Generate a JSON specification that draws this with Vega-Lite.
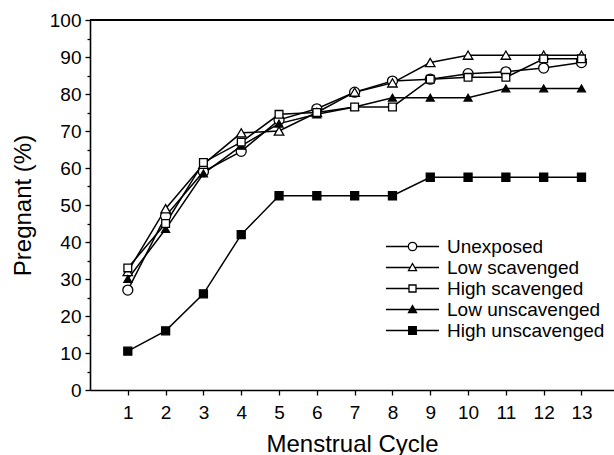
{
  "$schema": "https://vega.github.io/schema/vega-lite/v6.json",
  "autosize": "none",
  "padding": {"left": 90, "top": 20, "right": 0, "bottom": 65},
  "width": 524,
  "height": 370,
  "config": {
    "font": "Liberation Sans",
    "view": {"stroke": null},
    "axis": {
      "domainColor": "black", "domainWidth": 1.6, "tickColor": "black", "tickWidth": 1.3,
      "labelColor": "black", "labelFontSize": 19, "titleFontSize": 24, "titleFontWeight": "normal",
      "titleColor": "black", "grid": false
    }
  },
  "data": {"values": [
    {"cycle": 1, "series": "Unexposed", "pct": 27},
    {"cycle": 2, "series": "Unexposed", "pct": 47},
    {"cycle": 3, "series": "Unexposed", "pct": 59},
    {"cycle": 4, "series": "Unexposed", "pct": 64.5},
    {"cycle": 5, "series": "Unexposed", "pct": 73},
    {"cycle": 6, "series": "Unexposed", "pct": 76},
    {"cycle": 7, "series": "Unexposed", "pct": 80.5},
    {"cycle": 8, "series": "Unexposed", "pct": 83.5},
    {"cycle": 9, "series": "Unexposed", "pct": 84},
    {"cycle": 10, "series": "Unexposed", "pct": 85.5},
    {"cycle": 11, "series": "Unexposed", "pct": 86},
    {"cycle": 12, "series": "Unexposed", "pct": 87},
    {"cycle": 13, "series": "Unexposed", "pct": 88.5},
    {"cycle": 1, "series": "Low scavenged", "pct": 32},
    {"cycle": 2, "series": "Low scavenged", "pct": 49},
    {"cycle": 3, "series": "Low scavenged", "pct": 61},
    {"cycle": 4, "series": "Low scavenged", "pct": 69.5},
    {"cycle": 5, "series": "Low scavenged", "pct": 70},
    {"cycle": 6, "series": "Low scavenged", "pct": 75},
    {"cycle": 7, "series": "Low scavenged", "pct": 80.5},
    {"cycle": 8, "series": "Low scavenged", "pct": 83},
    {"cycle": 9, "series": "Low scavenged", "pct": 88.5},
    {"cycle": 10, "series": "Low scavenged", "pct": 90.5},
    {"cycle": 11, "series": "Low scavenged", "pct": 90.5},
    {"cycle": 12, "series": "Low scavenged", "pct": 90.5},
    {"cycle": 13, "series": "Low scavenged", "pct": 90.5},
    {"cycle": 1, "series": "High scavenged", "pct": 33},
    {"cycle": 2, "series": "High scavenged", "pct": 45},
    {"cycle": 3, "series": "High scavenged", "pct": 61.5},
    {"cycle": 4, "series": "High scavenged", "pct": 67},
    {"cycle": 5, "series": "High scavenged", "pct": 74.5},
    {"cycle": 6, "series": "High scavenged", "pct": 75},
    {"cycle": 7, "series": "High scavenged", "pct": 76.5},
    {"cycle": 8, "series": "High scavenged", "pct": 76.5},
    {"cycle": 9, "series": "High scavenged", "pct": 84},
    {"cycle": 10, "series": "High scavenged", "pct": 84.5},
    {"cycle": 11, "series": "High scavenged", "pct": 84.5},
    {"cycle": 12, "series": "High scavenged", "pct": 89.5},
    {"cycle": 13, "series": "High scavenged", "pct": 89.5},
    {"cycle": 1, "series": "Low unscavenged", "pct": 30},
    {"cycle": 2, "series": "Low unscavenged", "pct": 43.5},
    {"cycle": 3, "series": "Low unscavenged", "pct": 58.5},
    {"cycle": 4, "series": "Low unscavenged", "pct": 66},
    {"cycle": 5, "series": "Low unscavenged", "pct": 72},
    {"cycle": 6, "series": "Low unscavenged", "pct": 74.5},
    {"cycle": 7, "series": "Low unscavenged", "pct": 76.5},
    {"cycle": 8, "series": "Low unscavenged", "pct": 79},
    {"cycle": 9, "series": "Low unscavenged", "pct": 79},
    {"cycle": 10, "series": "Low unscavenged", "pct": 79},
    {"cycle": 11, "series": "Low unscavenged", "pct": 81.5},
    {"cycle": 12, "series": "Low unscavenged", "pct": 81.5},
    {"cycle": 13, "series": "Low unscavenged", "pct": 81.5},
    {"cycle": 1, "series": "High unscavenged", "pct": 10.5},
    {"cycle": 2, "series": "High unscavenged", "pct": 16},
    {"cycle": 3, "series": "High unscavenged", "pct": 26},
    {"cycle": 4, "series": "High unscavenged", "pct": 42},
    {"cycle": 5, "series": "High unscavenged", "pct": 52.5},
    {"cycle": 6, "series": "High unscavenged", "pct": 52.5},
    {"cycle": 7, "series": "High unscavenged", "pct": 52.5},
    {"cycle": 8, "series": "High unscavenged", "pct": 52.5},
    {"cycle": 9, "series": "High unscavenged", "pct": 57.5},
    {"cycle": 10, "series": "High unscavenged", "pct": 57.5},
    {"cycle": 11, "series": "High unscavenged", "pct": 57.5},
    {"cycle": 12, "series": "High unscavenged", "pct": 57.5},
    {"cycle": 13, "series": "High unscavenged", "pct": 57.5}
  ]},
  "layer": [
    {
      "mark": {"type": "rule", "color": "black", "strokeWidth": 2},
      "encoding": {
        "y": {"datum": 100, "type": "quantitative",
          "axis": {"orient": "left", "values": [5, 15, 25, 35, 45, 55, 65, 75, 85, 95], "labels": false, "domain": false, "tickSize": 3, "title": null}}
      }
    },
    {
      "mark": {"type": "line", "color": "black", "strokeWidth": 1.5},
      "encoding": {
        "x": {"field": "cycle", "type": "quantitative",
          "scale": {"domain": [0, 13.86], "nice": false, "zero": false},
          "axis": {"values": [1,2,3,4,5,6,7,8,9,10,11,12,13], "tickSize": 5, "labelPadding": 8,
            "title": "Menstrual Cycle", "titleY": 61, "titleBaseline": "alphabetic"}},
        "y": {"field": "pct", "type": "quantitative",
          "scale": {"domain": [0, 100], "nice": false},
          "axis": {"orient": "left", "values": [0,10,20,30,40,50,60,70,80,90,100], "tickSize": 5, "labelPadding": 4,
            "title": "Pregnant (%)", "titleX": -60, "titleY": 185, "titleBaseline": "alphabetic", "titleAngle": -90, "titleAlign": "center"}},
        "detail": {"field": "series"}
      }
    },
    {
      "transform": [{"filter": {"field": "series", "equal": "Unexposed"}}],
      "mark": {"type": "point", "shape": "circle", "size": 100, "stroke": "black", "strokeWidth": 1.3, "fill": "white", "opacity": 1, "fillOpacity": 1},
      "encoding": {
        "x": {"field": "cycle", "type": "quantitative"},
        "y": {"field": "pct", "type": "quantitative", "axis": null}
      }
    },
    {
      "transform": [{"filter": {"field": "series", "oneOf": ["Low scavenged", "Low unscavenged"]}}],
      "mark": {"type": "point", "shape": "triangle-up", "stroke": "black", "strokeWidth": 1.3, "opacity": 1, "fillOpacity": 1},
      "encoding": {
        "x": {"field": "cycle", "type": "quantitative"},
        "y": {"field": "pct", "type": "quantitative", "axis": null},
        "fill": {"condition": {"test": "datum.series === 'Low scavenged'", "value": "white"}, "value": "black"},
        "size": {"condition": {"test": "datum.series === 'Low scavenged'", "value": 90}, "value": 62}
      }
    },
    {
      "transform": [{"filter": {"field": "series", "oneOf": ["High scavenged", "High unscavenged"]}}],
      "mark": {"type": "point", "shape": "square", "stroke": "black", "strokeWidth": 1.3, "opacity": 1, "fillOpacity": 1},
      "encoding": {
        "x": {"field": "cycle", "type": "quantitative"},
        "y": {"field": "pct", "type": "quantitative", "axis": null},
        "fill": {"condition": {"test": "datum.series === 'High scavenged'", "value": "white"}, "value": "black"},
        "size": {"condition": {"test": "datum.series === 'High scavenged'", "value": 60}, "value": 64}
      }
    },
    {
      "mark": {"type": "point", "strokeWidth": 1.3, "opacity": 0, "size": 361},
      "encoding": {
        "x": {"field": "cycle", "type": "quantitative"},
        "y": {"field": "pct", "type": "quantitative", "axis": null},
        "shape": {"field": "series", "type": "nominal",
          "scale": {"domain": ["Unexposed", "Low scavenged", "High scavenged", "Low unscavenged", "High unscavenged"],
                    "range": [
                      "M-2.79,0H-0.44M0.44,0H2.79M-0.44,0A0.44,0.44 0 1,0 0.44,0A0.44,0.44 0 1,0 -0.44,0Z",
                      "M-2.79,0H-0.24M0.24,0H2.79M0,-0.42L0.42,0.32L-0.42,0.32Z",
                      "M-2.79,0H-0.37M0.37,0H2.79M-0.37,-0.37H0.37V0.37H-0.37Z",
                      "M-2.79,0H2.79M0,-0.42L0.42,0.32L-0.42,0.32Z",
                      "M-2.79,0H2.79M-0.4,-0.4H0.4V0.4H-0.4Z"
                    ]},
          "legend": {
            "orient": "none", "legendX": 312, "legendY": 216, "title": null, "padding": 0,
            "symbolSize": 361, "labelFontSize": 19, "labelOffset": 24, "rowPadding": -2.3, "labelColor": "black",
            "symbolStrokeWidth": 1.3, "symbolOpacity": 1
          }},
        "fill": {"field": "series", "type": "nominal",
          "scale": {"domain": ["Unexposed", "Low scavenged", "High scavenged", "Low unscavenged", "High unscavenged"],
                    "range": ["white", "white", "white", "black", "black"]},
          "legend": {
            "orient": "none", "legendX": 312, "legendY": 216, "title": null, "padding": 0,
            "symbolSize": 361, "labelFontSize": 19, "labelOffset": 24, "rowPadding": -2.3, "labelColor": "black",
            "symbolStrokeWidth": 1.3, "symbolOpacity": 1
          }},
        "stroke": {"field": "series", "type": "nominal",
          "scale": {"domain": ["Unexposed", "Low scavenged", "High scavenged", "Low unscavenged", "High unscavenged"],
                    "range": ["black", "black", "black", "black", "black"]},
          "legend": {
            "orient": "none", "legendX": 312, "legendY": 216, "title": null, "padding": 0,
            "symbolSize": 361, "labelFontSize": 19, "labelOffset": 24, "rowPadding": -2.3, "labelColor": "black",
            "symbolStrokeWidth": 1.3, "symbolOpacity": 1
          }}
      }
    }
  ],
  "resolve": {"axis": {"y": "independent"}}
}
